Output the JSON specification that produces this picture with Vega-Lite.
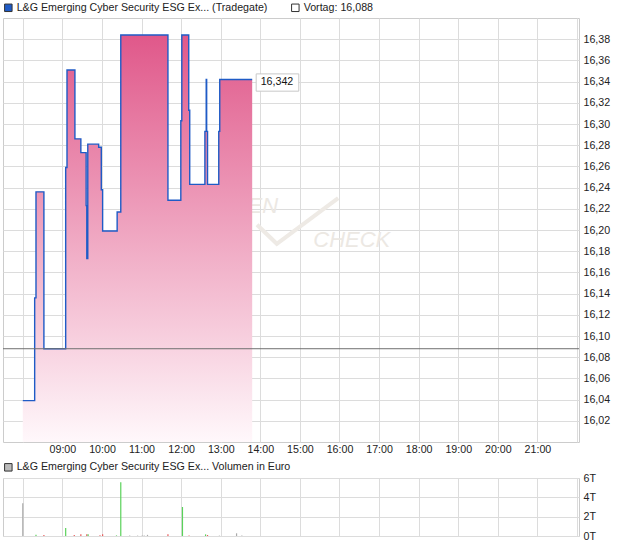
{
  "$schema": "https://vega.github.io/schema/vega-lite/v6.json",
  "background": "white",
  "padding": {"left": 2, "top": 1, "right": 0, "bottom": 0},
  "spacing": 6,
  "config": {
    "font": "Liberation Sans",
    "view": {"stroke": "#cccccc"},
    "axis": {"labelFont": "Liberation Sans", "labelFontSize": 10.67, "labelColor": "#222222", "gridColor": "#dcdcdc", "gridWidth": 1, "domain": false, "ticks": false},
    "legend": {"orient": "top", "direction": "horizontal", "symbolType": "square", "symbolSize": 56, "symbolStrokeColor": "#333333", "symbolStrokeWidth": 1, "labelFont": "Liberation Sans", "labelFontSize": 10.67, "labelColor": "#222222", "labelLimit": 400, "columnPadding": 21, "labelOffset": 3, "offset": 4, "padding": 0}
  },
  "datasets": {
    "price": [
      {"t": "2024-01-02T08:00:00", "p": 16.039},
      {"t": "2024-01-02T08:18:00", "p": 16.136},
      {"t": "2024-01-02T08:20:00", "p": 16.236},
      {"t": "2024-01-02T08:32:00", "p": 16.088},
      {"t": "2024-01-02T09:05:00", "p": 16.259},
      {"t": "2024-01-02T09:07:00", "p": 16.351},
      {"t": "2024-01-02T09:19:00", "p": 16.286},
      {"t": "2024-01-02T09:28:00", "p": 16.273},
      {"t": "2024-01-02T09:36:00", "p": 16.223},
      {"t": "2024-01-02T09:37:00", "p": 16.173},
      {"t": "2024-01-02T09:38:30", "p": 16.281},
      {"t": "2024-01-02T09:55:00", "p": 16.278},
      {"t": "2024-01-02T09:59:00", "p": 16.238},
      {"t": "2024-01-02T10:01:00", "p": 16.199},
      {"t": "2024-01-02T10:23:00", "p": 16.217},
      {"t": "2024-01-02T10:28:30", "p": 16.384},
      {"t": "2024-01-02T11:40:00", "p": 16.228},
      {"t": "2024-01-02T11:59:30", "p": 16.303},
      {"t": "2024-01-02T12:01:00", "p": 16.384},
      {"t": "2024-01-02T12:11:30", "p": 16.313},
      {"t": "2024-01-02T12:13:00", "p": 16.243},
      {"t": "2024-01-02T12:36:00", "p": 16.293},
      {"t": "2024-01-02T12:38:00", "p": 16.342},
      {"t": "2024-01-02T12:38:40", "p": 16.293},
      {"t": "2024-01-02T12:40:00", "p": 16.243},
      {"t": "2024-01-02T12:57:00", "p": 16.293},
      {"t": "2024-01-02T12:58:30", "p": 16.342},
      {"t": "2024-01-02T13:47:40", "p": 16.342}
    ],
    "volume": [
      {"t": "2024-01-02T08:00:00", "v": 3400, "d": "flat"},
      {"t": "2024-01-02T08:20:00", "v": 120, "d": "up"},
      {"t": "2024-01-02T08:32:00", "v": 100, "d": "down"},
      {"t": "2024-01-02T09:05:00", "v": 820, "d": "up"},
      {"t": "2024-01-02T09:18:00", "v": 100, "d": "down"},
      {"t": "2024-01-02T09:28:00", "v": 180, "d": "down"},
      {"t": "2024-01-02T09:37:00", "v": 170, "d": "down"},
      {"t": "2024-01-02T09:39:00", "v": 170, "d": "up"},
      {"t": "2024-01-02T09:57:00", "v": 80, "d": "down"},
      {"t": "2024-01-02T10:01:00", "v": 170, "d": "down"},
      {"t": "2024-01-02T10:22:00", "v": 60, "d": "up"},
      {"t": "2024-01-02T10:28:30", "v": 5560, "d": "up"},
      {"t": "2024-01-02T10:42:00", "v": 40, "d": "flat"},
      {"t": "2024-01-02T10:54:00", "v": 40, "d": "flat"},
      {"t": "2024-01-02T11:01:00", "v": 40, "d": "flat"},
      {"t": "2024-01-02T11:04:00", "v": 40, "d": "flat"},
      {"t": "2024-01-02T11:09:00", "v": 120, "d": "flat"},
      {"t": "2024-01-02T11:40:00", "v": 170, "d": "down"},
      {"t": "2024-01-02T12:02:00", "v": 3000, "d": "up"},
      {"t": "2024-01-02T12:12:00", "v": 60, "d": "down"},
      {"t": "2024-01-02T12:37:00", "v": 170, "d": "up"},
      {"t": "2024-01-02T12:40:00", "v": 100, "d": "down"},
      {"t": "2024-01-02T12:58:00", "v": 40, "d": "flat"},
      {"t": "2024-01-02T13:24:00", "v": 280, "d": "flat"},
      {"t": "2024-01-02T13:32:00", "v": 60, "d": "flat"}
    ],
    "wm": [
      {"t": "2024-01-02T17:17:00", "p": 16.191, "txt": "CHECK"},
      {"t": "2024-01-02T14:27:00", "p": 16.223, "txt": "EN"}
    ],
    "check": [
      {"t": "2024-01-02T13:55:00", "p": 16.205},
      {"t": "2024-01-02T14:25:00", "p": 16.187},
      {"t": "2024-01-02T15:58:00", "p": 16.23}
    ],
    "vortag": [{"p": 16.088}],
    "last": [{"t": "2024-01-02T13:47:40", "p": 16.342, "label": "16,342"}],
    "leg1": [
      {"t": "2024-01-02T08:00:00", "p": 15.9, "name": "L&G Emerging Cyber Security ESG Ex... (Tradegate)"},
      {"t": "2024-01-02T08:00:00", "p": 15.9, "name": "Vortag: 16,088"}
    ],
    "leg2": [
      {"t": "2024-01-02T08:00:00", "v": -1000, "name": "L&G Emerging Cyber Security ESG Ex... Volumen in Euro"}
    ]
  },
  "vconcat": [
    {
      "width": 576,
      "height": 424,
      "layer": [
        {
          "data": {"name": "wm"},
          "mark": {"type": "text", "font": "Liberation Sans", "fontStyle": "italic", "fontSize": 22, "color": "#ece8e3", "align": "right", "baseline": "middle"},
          "encoding": {
            "x": {"field": "t", "type": "temporal", "title": null,
                  "scale": {"domain": [{"year": 2024, "month": 1, "date": 2, "hours": 7, "minutes": 30}, {"year": 2024, "month": 1, "date": 2, "hours": 22, "minutes": 3}]},
                  "axis": {"orient": "bottom", "grid": true, "tickCount": 16, "labelFlush": false, "labelOverlap": false, "labelPadding": 2,
                           "labelExpr": "hours(datum.value) < 9 || hours(datum.value) > 21 ? '' : timeFormat(datum.value, '%H:%M')"}},
            "y": {"field": "p", "type": "quantitative", "title": null,
                  "scale": {"domain": [16.0, 16.4], "zero": false, "nice": false},
                  "axis": {"orient": "right", "grid": true, "tickCount": 20, "labelOverlap": false, "values": [16.02, 16.04, 16.06, 16.08, 16.1, 16.12, 16.14, 16.16, 16.18, 16.2, 16.22, 16.24, 16.26, 16.28, 16.3, 16.32, 16.34, 16.36, 16.38],
                           "labelExpr": "replace(format(datum.value, '.2f'), '.', ',')", "labelPadding": 4}},
            "text": {"field": "txt", "type": "nominal"}
          }
        },
        {
          "data": {"name": "check"},
          "mark": {"type": "line", "color": "#eeeae5", "strokeWidth": 4},
          "encoding": {
            "x": {"field": "t", "type": "temporal"},
            "y": {"field": "p", "type": "quantitative"}
          }
        },
        {
          "data": {"name": "price"},
          "mark": {"type": "area", "interpolate": "step-after",
                   "color": {"gradient": "linear", "x1": 0, "y1": 0, "x2": 0, "y2": 1,
                            "stops": [{"offset": 0, "color": "#e0588a"}, {"offset": 1, "color": "#fff8fb"}]}},
          "encoding": {
            "x": {"field": "t", "type": "temporal"},
            "y": {"field": "p", "type": "quantitative"},
            "y2": {"datum": 16.0}
          }
        },
        {
          "data": {"name": "price"},
          "mark": {"type": "line", "interpolate": "step-after", "color": "#1f5bc6", "strokeWidth": 1.4},
          "encoding": {
            "x": {"field": "t", "type": "temporal"},
            "y": {"field": "p", "type": "quantitative"}
          }
        },
        {
          "data": {"name": "vortag"},
          "mark": {"type": "rule", "color": "#707070", "strokeWidth": 1},
          "encoding": {
            "y": {"field": "p", "type": "quantitative"}
          }
        },
        {
          "data": {"name": "last"},
          "mark": {"type": "point", "shape": "M0.4,-0.56H4.66V1.17H0.4Z", "size": 400, "filled": true, "fill": "white", "stroke": "#c8c8c8", "strokeWidth": 1, "opacity": 1},
          "encoding": {
            "x": {"field": "t", "type": "temporal"},
            "y": {"field": "p", "type": "quantitative"}
          }
        },
        {
          "data": {"name": "last"},
          "mark": {"type": "text", "align": "left", "baseline": "middle", "dx": 8.5, "dy": 3, "fontSize": 10.67, "color": "#111111"},
          "encoding": {
            "x": {"field": "t", "type": "temporal"},
            "y": {"field": "p", "type": "quantitative"},
            "text": {"field": "label", "type": "nominal"}
          }
        },
        {
          "data": {"name": "leg1"},
          "mark": {"type": "point", "shape": "square", "filled": true, "clip": true, "opacity": 1},
          "encoding": {
            "x": {"field": "t", "type": "temporal"},
            "y": {"field": "p", "type": "quantitative"},
            "fill": {"field": "name", "type": "nominal", "legend": {"title": null},
                     "scale": {"domain": ["L&G Emerging Cyber Security ESG Ex... (Tradegate)", "Vortag: 16,088"], "range": ["#1f5bc6", "#ffffff"]}}
          }
        }
      ]
    },
    {
      "width": 576,
      "height": 58,
      "layer": [
        {
          "data": {"name": "volume"},
          "mark": {"type": "rule", "strokeWidth": 1.2},
          "encoding": {
            "x": {"field": "t", "type": "temporal", "title": null,
                  "scale": {"domain": [{"year": 2024, "month": 1, "date": 2, "hours": 7, "minutes": 30}, {"year": 2024, "month": 1, "date": 2, "hours": 22, "minutes": 3}]},
                  "axis": {"orient": "bottom", "labels": false, "grid": true, "tickCount": 16}},
            "y": {"field": "v", "type": "quantitative", "title": null,
                  "scale": {"domain": [0, 6000], "nice": false},
                  "axis": {"orient": "right", "grid": true, "tickCount": 5, "labelOverlap": false, "values": [0, 2000, 4000, 6000], "labelExpr": "format(datum.value/1000, 'd') + 'T'", "labelPadding": 4}},
            "y2": {"datum": 0},
            "color": {"field": "d", "type": "nominal",
                      "scale": {"domain": ["up", "down", "flat"], "range": ["#5ad25a", "#e85a5a", "#aaaaaa"]},
                      "legend": null}
          }
        },
        {
          "data": {"name": "leg2"},
          "mark": {"type": "point", "shape": "square", "filled": true, "clip": true, "opacity": 1},
          "encoding": {
            "x": {"field": "t", "type": "temporal"},
            "y": {"field": "v", "type": "quantitative"},
            "fill": {"field": "name", "type": "nominal", "legend": {"title": null}, "scale": {"range": ["#bbbbbb"]}}
          }
        }
      ]
    }
  ],
  "resolve": {"scale": {"y": "independent", "fill": "independent"}, "legend": {"fill": "independent"}}
}
